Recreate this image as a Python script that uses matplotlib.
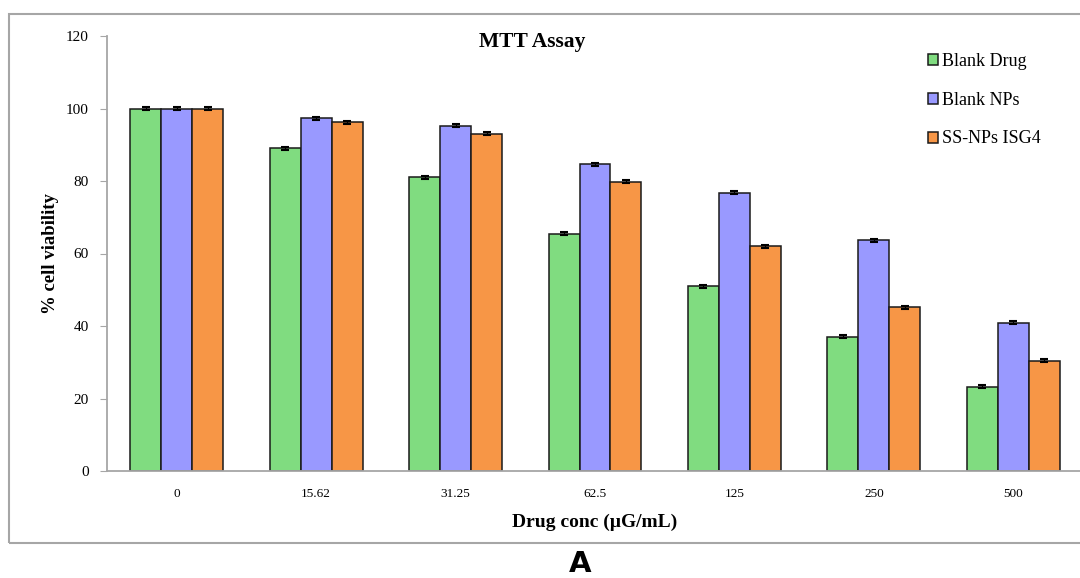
import matplotlib
matplotlib.use("Agg")
import matplotlib.pyplot as plt
import numpy as np
from matplotlib.patches import Rectangle

categories = ["0", "15.62", "31.25", "62.5", "125", "250", "500"]
blank_drug = [100, 89, 81, 65.5, 51, 37, 23.3]
blank_nps = [100, 97.3, 95.3, 84.6, 76.8, 63.6, 40.9]
ss_nps = [100, 96.2, 93.1, 79.8, 62, 45.2, 30.4]
err_drug = [0.4, 0.4, 0.4, 0.4, 0.4, 0.4, 0.4]
err_nps = [0.4, 0.4, 0.4, 0.4, 0.4, 0.4, 0.4]
err_ss = [0.4, 0.4, 0.4, 0.4, 0.4, 0.4, 0.4]
series_names = ["Blank Drug", "Blank NPs", "SS-NPs ISG4"]
colors = ["#80DC80", "#9999FF", "#F79646"]

plt.rcParams['font.family'] = ['Liberation Serif', 'DejaVu Serif']

fig = plt.figure(figsize=(10.8, 5.78), dpi=100)
fig.patches.append(Rectangle((9/1080, 1-543/578), 1.2, (543-14)/578,
                             transform=fig.transFigure, fill=False,
                             edgecolor="#a6a6a6", linewidth=1.5))
ax = fig.add_axes([107/1080, 1-471/578, (1083-107)/1080, (471-36)/578])

x = np.arange(len(categories))
w = 0.222
for i, (vals, errs) in enumerate([(blank_drug, err_drug), (blank_nps, err_nps), (ss_nps, err_ss)]):
    ax.bar(x + (i-1)*w, vals, w, color=colors[i], edgecolor="#1a1a1a", linewidth=1.1,
           label=series_names[i], yerr=errs, capsize=3,
           error_kw=dict(ecolor="black", elinewidth=0.8, capthick=1.5))

ax.set_xlim(-0.5, len(categories)-0.5)
ax.set_ylim(0, 120)
ax.set_yticks(np.arange(0, 121, 20))
ax.set_xticks(x)
ax.set_xticklabels(categories, fontsize=9.5)
ax.tick_params(axis='x', length=0, pad=12)
ax.tick_params(axis='y', length=5, color="#a6a6a6", labelsize=11, direction='out', pad=8)
for s in ['top', 'right']:
    ax.spines[s].set_visible(False)
for s in ['left', 'bottom']:
    ax.spines[s].set_color("#a6a6a6")
    ax.spines[s].set_linewidth(1.3)

ax.set_ylabel("% cell viability", fontsize=13.5, fontweight='bold', labelpad=5)
ax.set_xlabel("Drug conc (µG/mL)", fontsize=14, fontweight='bold', labelpad=10)
fig.text(532/1080, 1-42/578, "MTT Assay", fontsize=15.5, fontweight='bold', ha='center', va='center')

leg = ax.legend(loc='upper left', bbox_to_anchor=(0.825, 0.998), frameon=False,
                fontsize=13, handlelength=0.55, handleheight=0.55, handletextpad=0.2,
                labelspacing=1.2)
for h in leg.legend_handles:
    h.set_linewidth(1.1)

fig.text(580/1080, 1-550/578, "A", fontsize=21, fontweight='bold',
         family=['DejaVu Sans'], ha='center', va='top')

fig.savefig("out.png", dpi=100)
